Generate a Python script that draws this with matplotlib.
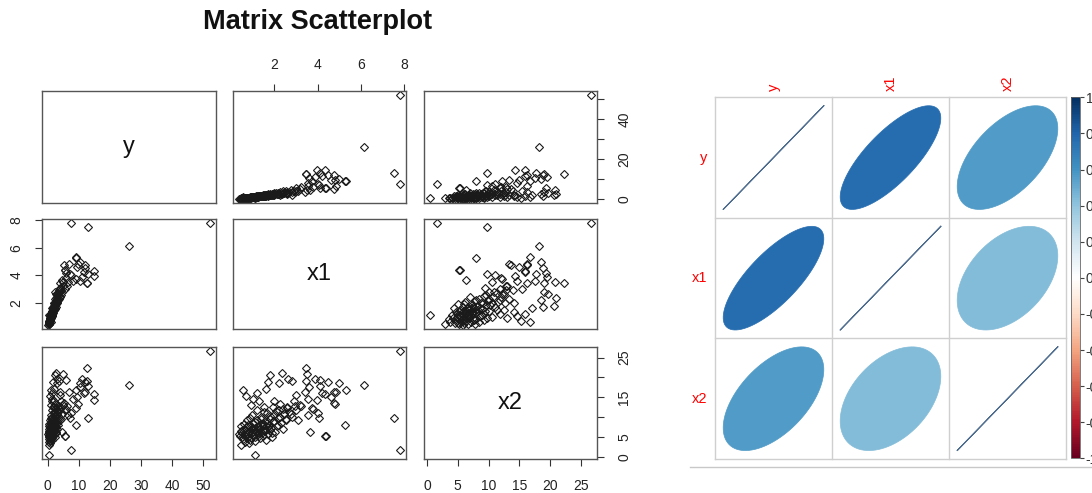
import numpy as np
import matplotlib
matplotlib.use('Agg')
import matplotlib.pyplot as plt
from matplotlib.colors import LinearSegmentedColormap, Normalize
from matplotlib.patches import Polygon
from matplotlib.lines import Line2D
from matplotlib.cm import ScalarMappable

plt.rcParams['font.family'] = ['Liberation Sans', 'DejaVu Sans']

# ---------------- data ----------------
var_names = ['y', 'x1', 'x2']

y = [52.0, 26.0, 13.0, 7.4, 12.5, 0.4, 9.0, 5.4, 1.0, 0.5,
     12.7, 14.8, 14.8, 11.9, 13.0, 10.2, 9.7, 11.5, 10.5, 12.0, 8.9, 11.0, 9.5,
     4.5, 5.6, 5.8, 4.8, 6.5, 7.0, 6.0, 7.5, 5.0, 4.0, 3.5, 3.0, 3.8, 4.2, 3.2, 5.2, 6.8,
     2.5, 2.2, 1.8, 2.8, 2.0,
     0.8, 1.2, 1.5, 2.0, 1.4, 0.9, 1.7,
     0.3, 0.3, 0.4, 0.4, 0.5, 0.5, 0.6, 0.6, 0.7, 0.7, 0.8, 0.8, 0.9, 0.9, 1.0, 1.0,
     1.1, 1.1, 1.2, 1.2, 1.3, 1.3, 1.4, 1.4, 1.5, 1.5, 1.6, 1.6, 1.7, 1.7, 1.8, 1.8,
     1.9, 1.9, 2.0, 2.0, 2.1, 2.2, 2.2, 2.3, 2.4, 2.4, 2.5, 2.6, 2.7, 2.8, 2.9, 3.0,
     3.1, 3.3, 2.6, 3.4, 2.2, 3.6, 4.0, 0.2, 0.35, 0.45, 0.55, 0.65, 1.0, 1.3, 0.85,
     1.5, 2.3, 1.9,
     0.3, 0.4, 0.5, 0.6, 0.7, 0.8, 0.9, 1.0, 1.1, 1.2, 1.3, 1.4, 1.6, 1.5, 1.8, 1.7,
     2.0, 1.9, 2.2, 2.3, 2.5, 2.4, 2.7, 2.9, 3.1, 3.3, 3.6, 3.9, 4.3, 4.7, 5.5, 6.2,
     8.0, 9.2]

x1 = [7.80, 6.15, 7.55, 7.80, 3.45, 1.10, 5.25, 4.35, 0.56, 0.45,
      3.45, 3.97, 4.33, 4.76, 4.10, 5.00, 4.80, 4.20, 3.60, 4.50, 5.30, 3.90, 4.60,
      3.66, 4.37, 4.13, 3.50, 3.54, 4.08, 3.80, 4.00, 3.20, 3.00, 2.80, 2.64, 3.43, 2.90, 2.60, 4.76, 4.84,
      2.33, 1.78, 1.70, 2.20, 1.60,
      0.70, 1.00, 1.30, 2.00, 1.20, 0.90, 1.50,
      0.42, 0.50, 0.55, 0.60, 0.65, 0.70, 0.72, 0.78, 0.80, 0.85, 0.88, 0.92, 0.95, 1.00, 1.02, 1.05,
      1.08, 1.12, 1.15, 1.18, 1.22, 1.25, 1.28, 1.32, 1.35, 1.38, 1.42, 1.45, 1.48, 1.52, 1.55, 1.58,
      1.62, 1.65, 1.70, 1.74, 1.78, 1.82, 1.86, 1.90, 1.95, 2.00, 2.05, 2.10, 2.15, 2.22, 2.30, 2.38,
      2.45, 2.52, 2.60, 2.70, 2.80, 2.95, 3.10, 0.38, 0.47, 0.62, 0.75, 0.83, 0.98, 1.20, 1.10,
      1.60, 2.25, 1.95,
      0.45, 0.52, 0.58, 0.68, 0.74, 0.82, 0.86, 0.94, 0.97, 1.04, 1.10, 1.16, 1.24, 1.30, 1.36, 1.40,
      1.46, 1.50, 1.56, 1.64, 1.72, 1.80, 1.88, 1.98, 2.08, 2.18, 2.28, 2.40, 2.55, 2.75, 3.00, 3.25,
      3.55, 3.75]

x2 = [26.6, 18.2, 9.7, 1.7, 22.3, 0.55, 8.0, 5.2, 16.8, 2.9,
      19.0, 14.3, 15.9, 16.3, 17.8, 18.6, 13.4, 16.0, 17.5, 18.8, 16.8, 19.5, 15.0,
      6.4, 5.3, 19.4, 20.8, 10.6, 9.8, 12.0, 11.0, 13.0, 15.5, 19.0, 19.7, 16.3, 14.0, 12.5, 13.6, 16.3,
      21.0, 20.7, 18.9, 18.5, 17.0,
      15.3, 14.6, 14.2, 14.2, 16.0, 13.0, 12.5,
      5.2, 6.0, 4.6, 7.1, 5.5, 6.4, 4.9, 8.0, 5.8, 6.9, 4.3, 7.5, 6.1, 5.3, 8.6, 6.7,
      5.0, 7.2, 6.3, 9.3, 5.7, 7.9, 6.8, 4.7, 7.4, 10.1, 6.0, 8.3, 5.4, 7.0, 9.0, 6.5,
      7.7, 11.0, 5.9, 8.1, 6.9, 9.6, 7.3, 5.1, 8.8, 10.5, 6.2, 7.8, 9.9, 11.8, 8.5, 7.0,
      10.8, 9.2, 12.2, 11.4, 10.0, 12.8, 9.4, 5.8, 7.8, 3.8, 9.2, 3.5, 10.5, 11.8, 4.0,
      4.4, 13.3, 12.6,
      6.6, 5.0, 8.4, 5.9, 7.6, 6.2, 9.8, 4.8, 7.0, 5.6, 8.9, 6.6, 7.3, 5.2, 9.5, 6.4,
      7.9, 11.3, 6.8, 8.6, 7.5, 10.3, 6.0, 9.1, 11.6, 8.0, 10.0, 12.0, 9.6, 10.9, 11.9, 12.9,
      14.6, 12.2]

y_ticks = [0, 10, 20, 30, 40, 50]
y_ticklabels_bottom = ['0', '10', '20', '30', '40', '50']
y_ticklabels_side = ['0', '', '20', '', '40', '']
x1_ticks = [2, 4, 6, 8]
x1_ticklabels = ['2', '4', '6', '8']
x2_ticks = [0, 5, 10, 15, 20, 25]
x2_ticklabels_bottom = ['0', '5', '10', '15', '20', '25']
x2_ticklabels_side = ['0', '5', '', '15', '', '25']

corr_labels = ['y', 'x1', 'x2']
corr_matrix = [[1.00, 0.76, 0.56],
               [0.76, 1.00, 0.43],
               [0.56, 0.43, 1.00]]
cbar_ticks = [-1, -0.8, -0.6, -0.4, -0.2, 0, 0.2, 0.4, 0.6, 0.8, 1]
cbar_ticklabels = ['-1', '-0.8', '-0.6', '-0.4', '-0.2', '0', '0.2', '0.4', '0.6', '0.8', '1']
rdbu_colors = ["#67001F", "#B2182B", "#D6604D", "#F4A582", "#FDDBC7", "#FFFFFF",
               "#D1E5F0", "#92C5DE", "#4393C3", "#2166AC", "#053061"]

# ---------------- layout ----------------
W, H = 1092, 493
fig = plt.figure(figsize=(W / 100, H / 100), dpi=100)


def rect(x0, y0, x1_, y1_):
    return [x0 / W, 1 - y1_ / H, (x1_ - x0) / W, (y1_ - y0) / H]


def lims(v):
    lo, hi = min(v), max(v)
    r = hi - lo
    return lo - 0.04 * r, hi + 0.04 * r


data = [y, x1, x2]
ticks = [y_ticks, x1_ticks, x2_ticks]
labels_bottom = [y_ticklabels_bottom, x1_ticklabels, x2_ticklabels_bottom]
labels_side = [y_ticklabels_side, x1_ticklabels, x2_ticklabels_side]

col_px = [(42, 216), (233, 406), (424, 597)]
row_px = [(91, 203), (219, 329), (347, 459)]

tick_kw = dict(direction='out', length=5, width=0.8, color='#333333',
               labelsize=10, labelcolor='#222222')

for r in range(3):
    for c in range(3):
        ax = fig.add_axes(rect(col_px[c][0], row_px[r][0], col_px[c][1], row_px[r][1]))
        for sp in ax.spines.values():
            sp.set_color('#555555')
            sp.set_linewidth(1.0)
        ax.set_xlim(lims(data[c]))
        ax.set_ylim(lims(data[r]))
        ax.set_xticks([])
        ax.set_yticks([])
        if r == c:
            ax.text(0.5, 0.5, var_names[r], transform=ax.transAxes,
                    ha='center', va='center', fontsize=17, color='#111111')
        else:
            ax.plot(data[c], data[r], linestyle='none', marker='D', ms=4.5,
                    mfc='none', mec='#1a1a1a', mew=0.8)
        if r == 2 and c in (0, 2):
            ax.set_xticks(ticks[c])
            ax.set_xticklabels(labels_bottom[c])
            ax.tick_params(axis='x', pad=9.5, **tick_kw)
        if r == 0 and c == 1:
            ax.xaxis.tick_top()
            ax.set_xticks(ticks[c])
            ax.set_xticklabels(labels_bottom[c])
            ax.tick_params(axis='x', pad=9, **tick_kw)
        if c == 0 and r == 1:
            ax.set_yticks(ticks[r])
            ax.set_yticklabels(labels_side[r], rotation=90, va='center')
            ax.tick_params(axis='y', pad=8.5, **tick_kw)
        if c == 2 and r in (0, 2):
            ax.yaxis.tick_right()
            ax.set_yticks(ticks[r])
            ax.set_yticklabels(labels_side[r], rotation=90, va='center')
            ax.tick_params(axis='y', pad=9.5, **tick_kw)

fig.text(318 / W, 1 - 22 / H, 'Matrix Scatterplot', ha='center', va='center',
         fontsize=19.5, fontweight='bold', color='#111111')

# ---------------- corrplot ----------------
cmap = LinearSegmentedColormap.from_list('corr_rdbu', rdbu_colors, N=200)
norm = Normalize(vmin=-1, vmax=1)

cax_px = (715, 97.3, 1066, 459)
axc = fig.add_axes(rect(*cax_px))
axc.set_xlim(0, 3)
axc.set_ylim(0, 3)
axc.axis('off')

grid_col = '#cfcfcf'
for k in range(4):
    axc.plot([k, k], [0, 3], color=grid_col, lw=1.0, clip_on=False, zorder=1)
    axc.plot([0, 3], [k, k], color=grid_col, lw=1.0, clip_on=False, zorder=1)

scale = 0.86
t = np.linspace(0, 2 * np.pi, 99)
n = len(corr_labels)
for i in range(n):
    for j in range(n):
        rho = corr_matrix[i][j]
        cx = j + 0.5
        cy = n - i - 0.5
        d = np.arccos(np.clip(rho, -1, 1))
        ex = np.cos(t + d / 2) / 2 * scale + cx
        ey = np.cos(t - d / 2) / 2 * scale + cy
        col = cmap(norm(rho))
        if rho >= 0.999:
            axc.plot(ex, ey, color=col, lw=0.8, alpha=0.7, zorder=2)
        else:
            axc.add_patch(Polygon(np.column_stack([ex, ey]), closed=True,
                                  facecolor=col, edgecolor=col, lw=0.5, zorder=2))

cell_w = (cax_px[2] - cax_px[0]) / 3
cell_h = (cax_px[3] - cax_px[1]) / 3
for j, lab in enumerate(corr_labels):
    axc.text(j + 0.5, 3 + 6.5 / cell_h, lab, rotation=90, ha='center', va='bottom',
             color='red', fontsize=10.5, clip_on=False)
for i, lab in enumerate(corr_labels):
    axc.text(-8 / cell_w, n - i - 0.5, lab, ha='right', va='center',
             color='red', fontsize=10.5, clip_on=False)

cbax = fig.add_axes(rect(1070.7, 97.3, 1080, 458.3))
cb = fig.colorbar(ScalarMappable(norm=norm, cmap=cmap), cax=cbax, ticks=cbar_ticks)
cb.ax.set_yticklabels(cbar_ticklabels)
cb.ax.tick_params(length=3, width=0.8, labelsize=10, pad=1, color='#444444',
                  labelcolor='#333333')
cb.outline.set_linewidth(0.6)
cb.outline.set_edgecolor('#666666')

fig.add_artist(Line2D([690 / W, 1.0], [1 - 467 / H, 1 - 467 / H],
                      color='#c8c8c8', lw=1.0))

fig.savefig('out.png', dpi=100)
